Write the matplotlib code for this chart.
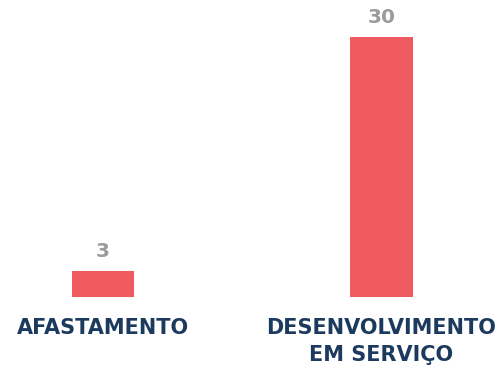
import matplotlib
matplotlib.use('Agg')
import matplotlib.pyplot as plt

categories = ["AFASTAMENTO", "DESENVOLVIMENTO\nEM SERVIÇO"]
values = [3, 30]

BAR_COLOR = "#EE5A5F"
LABEL_COLOR = "#1C3A5E"
VALUE_COLOR = "#9B9B9B"

fig = plt.figure(figsize=(5.04, 3.68), dpi=100)
ax = fig.add_axes([0, 71 / 368, 1, 260 / 368])

x = list(range(len(categories)))
bars = ax.bar(x, values, width=0.223, color=BAR_COLOR)

for rect, v in zip(bars, values):
    ax.annotate(str(v), (rect.get_x() + rect.get_width() / 2, v),
                xytext=(0, 7), textcoords="offset points",
                ha="center", va="bottom", fontsize=14.5, fontweight="bold",
                color=VALUE_COLOR, family="DejaVu Sans")

ax.set_xlim(-0.370, 1.440)
ax.set_ylim(0, 30)
ax.set_xticks(x)
ax.set_xticklabels(categories, fontsize=15, fontweight="bold",
                   color=LABEL_COLOR, linespacing=1.45, family="DejaVu Sans")
ax.tick_params(axis="x", length=0, pad=15)
ax.set_yticks([])
for s in ax.spines.values():
    s.set_visible(False)

plt.savefig("out.png", dpi=100)
plt.close()
